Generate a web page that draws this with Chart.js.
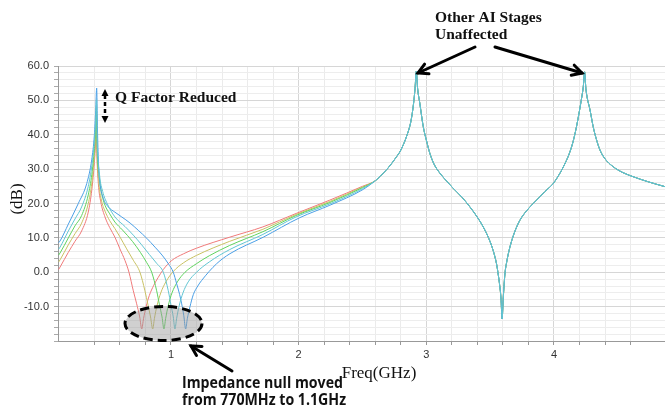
<!DOCTYPE html>
<html>
<head>
<meta charset="utf-8">
<script src="https://cdn.jsdelivr.net/npm/chart.js@4.4.0/dist/chart.umd.min.js"></script>
<style>
  html, body { margin: 0; padding: 0; background: #fff; }
  #wrap { width: 665px; height: 413px; }
</style>
</head>
<body>
<div id="wrap"><canvas id="chart" width="665" height="413"></canvas></div>
<script>
// Frequencies in GHz, responses in dB
const redFreq = [0.12, 0.131, 0.196, 0.248, 0.30, 0.352, 0.38, 0.40, 0.41, 0.415, 0.42, 0.431, 0.45, 0.483, 0.52, 0.561, 0.60, 0.64, 0.671, 0.705, 0.73, 0.755, 0.771, 0.785, 0.805, 0.83, 0.865, 0.90, 0.94, 1.005, 1.1, 1.2, 1.46, 1.72, 1.98, 2.245, 2.5];
const redDb = [0.8, 1.5, 5.8, 9.0, 12.0, 17.5, 24.0, 32.0, 38.0, 43.4, 34.0, 25.8, 20.5, 16.1, 13.0, 10.2, 6.8, 3.4, 0.0, -5.4, -9.0, -13.0, -16.5, -13.5, -10.0, -6.8, -3.8, -1.5, 0.8, 3.4, 5.4, 7.0, 10.2, 13.2, 17.1, 21.0, 25.0];

const yellowFreq = [0.12, 0.131, 0.196, 0.248, 0.30, 0.352, 0.38, 0.40, 0.41, 0.416, 0.421, 0.435, 0.455, 0.483, 0.52, 0.561, 0.60, 0.653, 0.705, 0.757, 0.796, 0.82, 0.84, 0.857, 0.87, 0.89, 0.92, 0.96, 1.02, 1.1, 1.2, 1.46, 1.72, 1.98, 2.245, 2.5];
const yellowDb = [3.0, 3.6, 8.0, 11.2, 14.3, 20.0, 26.0, 34.0, 40.0, 46.3, 35.0, 26.0, 21.0, 17.8, 15.0, 12.7, 10.3, 6.8, 3.5, 0.0, -5.4, -9.5, -13.0, -16.5, -13.5, -9.8, -6.0, -2.8, 0.3, 2.8, 4.9, 9.0, 12.5, 16.8, 20.6, 24.8];

const greenFreq = [0.12, 0.131, 0.196, 0.248, 0.30, 0.352, 0.38, 0.40, 0.41, 0.416, 0.421, 0.437, 0.46, 0.483, 0.52, 0.561, 0.62, 0.70, 0.76, 0.81, 0.849, 0.888, 0.91, 0.93, 0.945, 0.958, 0.978, 1.008, 1.05, 1.11, 1.2, 1.3, 1.46, 1.72, 1.98, 2.245, 2.5];
const greenDb = [5.0, 5.6, 10.0, 13.5, 16.5, 22.5, 28.5, 36.0, 42.0, 48.2, 37.0, 28.0, 22.5, 19.5, 17.0, 14.6, 12.3, 8.9, 5.8, 2.8, 0.0, -5.4, -9.5, -13.0, -16.5, -13.5, -9.8, -6.0, -2.8, 0.0, 2.5, 4.8, 7.8, 11.8, 16.5, 20.3, 24.6];

const cyanFreq = [0.12, 0.131, 0.196, 0.248, 0.30, 0.352, 0.38, 0.40, 0.41, 0.417, 0.422, 0.44, 0.465, 0.50, 0.561, 0.64, 0.705, 0.77, 0.83, 0.89, 0.94, 0.979, 1.0, 1.018, 1.031, 1.044, 1.064, 1.094, 1.135, 1.2, 1.3, 1.46, 1.72, 1.98, 2.245, 2.5];
const cyanDb = [6.7, 7.3, 12.0, 15.5, 19.0, 25.0, 31.0, 38.0, 44.0, 50.2, 39.0, 28.5, 23.5, 20.0, 16.1, 13.3, 10.8, 8.0, 5.2, 2.5, 0.0, -5.4, -9.5, -13.0, -16.5, -13.5, -9.8, -6.0, -2.8, 0.0, 3.0, 6.6, 11.0, 16.1, 19.9, 24.3];

const blueFreq = [0.12, 0.131, 0.196, 0.274, 0.34, 0.379, 0.40, 0.41, 0.418, 0.424, 0.432, 0.444, 0.47, 0.509, 0.56, 0.614, 0.68, 0.744, 0.81, 0.875, 0.93, 0.979, 1.018, 1.045, 1.068, 1.084, 1.10, 1.115, 1.128, 1.149, 1.175, 1.21, 1.24, 1.358, 1.462, 1.723, 2.01, 2.245, 2.506];
const blueDb = [8.6, 9.1, 14.0, 20.0, 25.8, 32.7, 40.0, 47.0, 53.6, 42.0, 32.0, 25.8, 21.5, 19.0, 17.5, 16.1, 14.3, 12.2, 9.9, 7.3, 5.0, 2.5, 0.0, -3.4, -6.5, -9.2, -12.5, -16.5, -13.5, -10.0, -6.5, -4.0, -2.4, 2.5, 5.4, 10.2, 15.9, 19.5, 24.1];

// the other stages: all five traces lie on top of each other here
const tailFreq = [2.6, 2.636, 2.70, 2.767, 2.80, 2.85, 2.88, 2.90, 2.912, 2.922, 2.932, 2.95, 2.976, 3.0, 3.028, 3.06, 3.107, 3.16, 3.211, 3.28, 3.342, 3.40, 3.446, 3.49, 3.524, 3.55, 3.563, 3.575, 3.585, 3.594, 3.603, 3.616, 3.63, 3.655, 3.69, 3.733, 3.80, 3.864, 3.93, 3.994, 4.05, 4.085, 4.12, 4.15, 4.177, 4.20, 4.216, 4.23, 4.24, 4.25, 4.262, 4.281, 4.307, 4.33, 4.36, 4.40, 4.464, 4.54, 4.62, 4.74, 4.87];
const tailDb = [26.6, 27.8, 30.3, 33.6, 35.5, 40.0, 44.0, 49.0, 53.5, 58.5, 53.5, 49.0, 42.4, 38.5, 34.6, 31.5, 28.8, 26.5, 24.4, 21.8, 19.0, 16.0, 13.2, 9.8, 6.3, 2.5, -0.5, -3.8, -7.5, -13.6, -7.5, -0.5, 3.0, 7.3, 11.5, 15.1, 18.5, 21.0, 23.5, 25.8, 29.0, 31.5, 34.5, 38.0, 42.4, 47.0, 50.5, 54.0, 58.3, 53.5, 50.5, 47.5, 42.4, 39.0, 35.6, 33.0, 30.7, 29.0, 27.8, 26.3, 24.9];

const xTickLabels = [1, 2, 3, 4];
const yTickLabels = [-10, 0, 10, 20, 30, 40, 50, 60];

function toPoints(freq, db) {
    const pts = freq.map((f, i) => ({ x: f, y: db[i] }));
    return pts.concat(tailFreq.map((f, i) => ({ x: f, y: tailDb[i] })));
}

function line(data, color) {
    return {
        data: data,
        borderColor: color,
        borderWidth: 1,
        pointRadius: 0,
        cubicInterpolationMode: 'monotone',
        fill: false
    };
}

function arrow(ctx, x1, y1, x2, y2, size) {
    const a = Math.atan2(y2 - y1, x2 - x1);
    ctx.beginPath();
    ctx.moveTo(x1, y1);
    ctx.lineTo(x2, y2);
    ctx.stroke();
    ctx.beginPath();
    ctx.moveTo(x2 - size * Math.cos(a - 0.5), y2 - size * Math.sin(a - 0.5));
    ctx.lineTo(x2, y2);
    ctx.lineTo(x2 - size * Math.cos(a + 0.5), y2 - size * Math.sin(a + 0.5));
    ctx.stroke();
}

function triangle(ctx, x, y, dir) {
    ctx.beginPath();
    ctx.moveTo(x, y);
    ctx.lineTo(x - 3.5, y - dir * 7);
    ctx.lineTo(x + 3.5, y - dir * 7);
    ctx.closePath();
    ctx.fill();
}

const annotations = {
    id: 'annotations',
    afterDraw(chart) {
        const ctx = chart.ctx;
        ctx.save();

        // gray ellipse round the nulls
        ctx.beginPath();
        ctx.ellipse(163.5, 323.5, 38.5, 17, 0, 0, Math.PI * 2);
        ctx.fillStyle = 'rgba(150,150,150,0.45)';
        ctx.fill();
        ctx.setLineDash([9, 5]);
        ctx.lineWidth = 3;
        ctx.strokeStyle = '#000';
        ctx.stroke();
        ctx.setLineDash([]);

        // axis titles
        ctx.fillStyle = '#111';
        ctx.font = '17px "Liberation Serif"';
        ctx.textAlign = 'center';
        ctx.textBaseline = 'middle';
        ctx.fillText('Freq(GHz)', 379, 374);
        ctx.save();
        ctx.translate(18, 199);
        ctx.rotate(-Math.PI / 2);
        ctx.fillText('(dB)', 0, 0);
        ctx.restore();

        // bold notes
        ctx.textAlign = 'left';
        ctx.textBaseline = 'alphabetic';
        ctx.font = 'bold 15.5px "Liberation Serif"';
        ctx.fillText('Other AI Stages', 435, 22);
        ctx.fillText('Unaffected', 435, 39);
        ctx.fillText('Q Factor Reduced', 115, 102);

        // the original note is in a narrow sans; squeeze both lines by one factor
        const note1 = 'Impedance null moved';
        const note2 = 'from 770MHz to 1.1GHz';
        ctx.font = 'bold 15.5px "Open Sans"';
        const sx = 325 / (ctx.measureText(note1).width + ctx.measureText(note2).width);
        ctx.save();
        ctx.translate(182, 0);
        ctx.scale(sx, 1);
        ctx.fillText(note1, 0, 388);
        ctx.fillText(note2, 0, 405);
        ctx.restore();

        // arrows
        ctx.strokeStyle = '#000';
        ctx.lineWidth = 3;
        ctx.lineCap = 'round';
        arrow(ctx, 475, 47, 418, 73, 11);
        arrow(ctx, 495, 47, 582, 73, 11);
        arrow(ctx, 232, 371, 191, 346, 11);

        // dashed double arrow for the Q factor
        ctx.lineWidth = 2.5;
        ctx.lineCap = 'butt';
        ctx.setLineDash([4, 3]);
        ctx.beginPath();
        ctx.moveTo(105, 95);
        ctx.lineTo(105, 117);
        ctx.stroke();
        ctx.setLineDash([]);
        ctx.fillStyle = '#000';
        triangle(ctx, 105, 89, -1);
        triangle(ctx, 105, 123, 1);

        ctx.restore();
    }
};

Chart.defaults.font.family = '"Liberation Sans", Arial, sans-serif';

function isMultiple(v, step) {
    return Math.abs(v / step - Math.round(v / step)) < 1e-6;
}

function inList(list, v) {
    return list.some(n => Math.abs(n - v) < 1e-6);
}

new Chart(document.getElementById('chart').getContext('2d'), {
    type: 'line',
    data: {
        datasets: [
            line(toPoints(cyanFreq, cyanDb), '#62c6d2'),
            line(toPoints(blueFreq, blueDb), '#4a9fe6'),
            line(toPoints(greenFreq, greenDb), '#5fd35f'),
            line(toPoints(yellowFreq, yellowDb), '#c9c163'),
            line(toPoints(redFreq, redDb), '#f07a7a')
        ]
    },
    options: {
        responsive: false,
        animation: false,
        layout: { padding: { top: 66, left: 0, right: 0, bottom: 0 } },
        plugins: {
            legend: { display: false },
            tooltip: { enabled: false }
        },
        scales: {
            x: {
                type: 'linear',
                min: 0.115,
                max: 4.87,
                afterFit: (s) => { s.height = 72; },
                afterBuildTicks: (s) => {
                    s.ticks = s.ticks.filter(t => isMultiple(t.value, 0.2));
                },
                ticks: {
                    stepSize: 0.2,
                    autoSkip: false,
                    maxRotation: 0,
                    padding: 3,
                    color: '#333',
                    font: { size: 11 },
                    callback: (v) => inList(xTickLabels, v) ? String(Math.round(v)) : ''
                },
                grid: {
                    color: (c) => c.tick && isMultiple(c.tick.value, 1) ? '#d6d6d6' : '#ebebeb',
                    tickColor: '#999',
                    tickLength: 4
                },
                border: { display: true, color: '#999' }
            },
            y: {
                min: -20,
                max: 60,
                afterFit: (s) => { s.width = 58; },
                ticks: {
                    stepSize: 2,
                    autoSkip: false,
                    padding: 5,
                    color: '#333',
                    font: { size: 11 },
                    callback: (v) => inList(yTickLabels, v) ? Number(v).toFixed(1) : ''
                },
                grid: {
                    color: (c) => c.tick && isMultiple(c.tick.value, 10) ? '#d6d6d6' : '#ededed',
                    tickColor: '#aaa',
                    tickLength: 4
                },
                border: { display: true, color: '#999' }
            }
        }
    },
    plugins: [annotations]
});
</script>
</body>
</html>
